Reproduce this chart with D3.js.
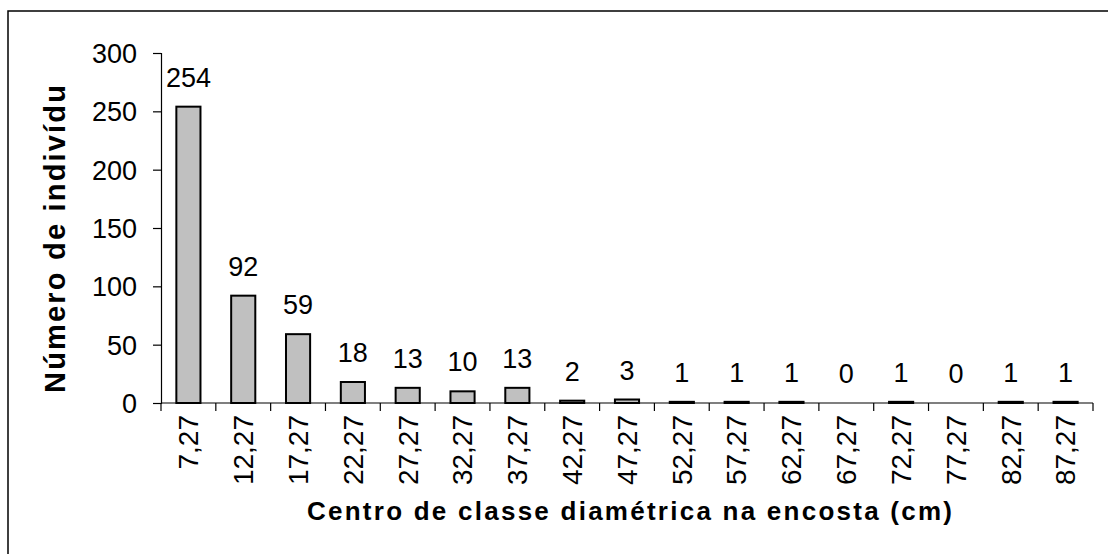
<!DOCTYPE html>
<html>
<head>
<meta charset="utf-8">
<script src="https://cdn.jsdelivr.net/npm/d3@7"></script>
<style>
  body { margin: 0; background: #fff; }
  text { font-family: "Liberation Sans", Arial, sans-serif; fill: #000; }
</style>
</head>
<body>
<div id="main"></div>
<script>
// class centres and counts
var categories = ["7,27","12,27","17,27","22,27","27,27","32,27","37,27","42,27","47,27",
                  "52,27","57,27","62,27","67,27","72,27","77,27","82,27","87,27"];
var counts = [254, 92, 59, 18, 13, 10, 13, 2, 3, 1, 1, 1, 0, 1, 0, 1, 1];
var yTicks = [0, 50, 100, 150, 200, 250, 300];

var W = 1108, H = 554;
var margin = {top: 53, left: 161},
    width = 1093 - 161,
    height = 403 - 53;

var data = categories.map(function(c, i){ return {cat: c, n: counts[i]}; });

var svg = d3.select("#main").append("svg")
    .attr("width", W)
    .attr("height", H);

// outer frame (runs off the right and bottom edges)
svg.append("rect")
    .attr("x", 8).attr("y", 11)
    .attr("width", W + 20).attr("height", H + 20)
    .attr("fill", "none")
    .attr("stroke", "#000")
    .attr("stroke-width", 1.5);

var g = svg.append("g")
    .attr("transform", "translate(" + margin.left + "," + margin.top + ")");

var xScale = d3.scaleBand()
    .domain(categories)
    .range([0, width])
    .paddingInner(0.56)
    .paddingOuter(0.28);

var step = xScale.step();

var yScale = d3.scaleLinear()
    .domain([0, 300])
    .range([height, 0]);

// bars (zero counts draw nothing)
g.selectAll("rect.bar")
   .data(data.filter(function(d){ return d.n > 0; }))
   .enter()
   .append("rect")
   .attr("class", "bar")
   .attr("x", function(d){ return xScale(d.cat); })
   .attr("width", xScale.bandwidth())
   .attr("y", function(d){ return yScale(d.n); })
   .attr("height", function(d){ return height - yScale(d.n); })
   .attr("fill", "#c0c0c0")
   .attr("stroke", "#000")
   .attr("stroke-width", 2);

// value labels
g.selectAll("text.val")
   .data(data)
   .enter()
   .append("text")
   .attr("class", "val")
   .attr("x", function(d){ return xScale(d.cat) + xScale.bandwidth() / 2; })
   .attr("y", function(d){ return yScale(d.n) - 20; })
   .attr("text-anchor", "middle")
   .style("font-size", "27px")
   .text(function(d){ return d.n; });

// y axis
var yAxis = d3.axisLeft(yScale)
    .tickValues(yTicks)
    .tickSize(8)
    .tickPadding(16);

var yG = g.append("g").attr("class", "y axis").call(yAxis);
yG.select(".domain").attr("stroke", "#000").attr("stroke-width", 1.2);
yG.selectAll(".tick line").attr("stroke", "#000").attr("stroke-width", 1.2);
yG.selectAll(".tick text")
    .style("font-size", "27px")
    .style("font-family", "'Liberation Sans', Arial, sans-serif")
    .attr("dy", "0.35em");

// x axis line
g.append("line")
    .attr("x1", 0).attr("x2", width)
    .attr("y1", height).attr("y2", height)
    .attr("stroke", "#000")
    .attr("stroke-width", 1.2);

// x ticks on category boundaries
var bounds = d3.range(categories.length + 1);
g.selectAll("line.xtick")
   .data(bounds)
   .enter()
   .append("line")
   .attr("class", "xtick")
   .attr("x1", function(d){ return d * step; })
   .attr("x2", function(d){ return d * step; })
   .attr("y1", height)
   .attr("y2", height + 8)
   .attr("stroke", "#000")
   .attr("stroke-width", 1.2);

// x tick labels, rotated
g.selectAll("text.xlab")
   .data(categories)
   .enter()
   .append("text")
   .attr("class", "xlab")
   .attr("transform", function(d){
      var cx = xScale(d) + xScale.bandwidth() / 2;
      return "translate(" + cx + "," + (height + 12) + ") rotate(-90)";
   })
   .attr("text-anchor", "end")
   .attr("dy", "0.35em")
   .style("font-size", "28px")
   .text(function(d){ return d; });

// axis titles
svg.append("text")
    .attr("x", 307)
    .attr("y", 520)
    .attr("textLength", 645)
    .attr("lengthAdjust", "spacing")
    .style("font-size", "26px")
    .style("font-weight", "bold")
    .text("Centro de classe diamétrica na encosta (cm)");

svg.append("text")
    .attr("transform", "translate(65,393) rotate(-90)")
    .attr("textLength", 308)
    .attr("lengthAdjust", "spacing")
    .style("font-size", "29px")
    .style("font-weight", "bold")
    .text("Número de indivídu");
</script>
</body>
</html>
